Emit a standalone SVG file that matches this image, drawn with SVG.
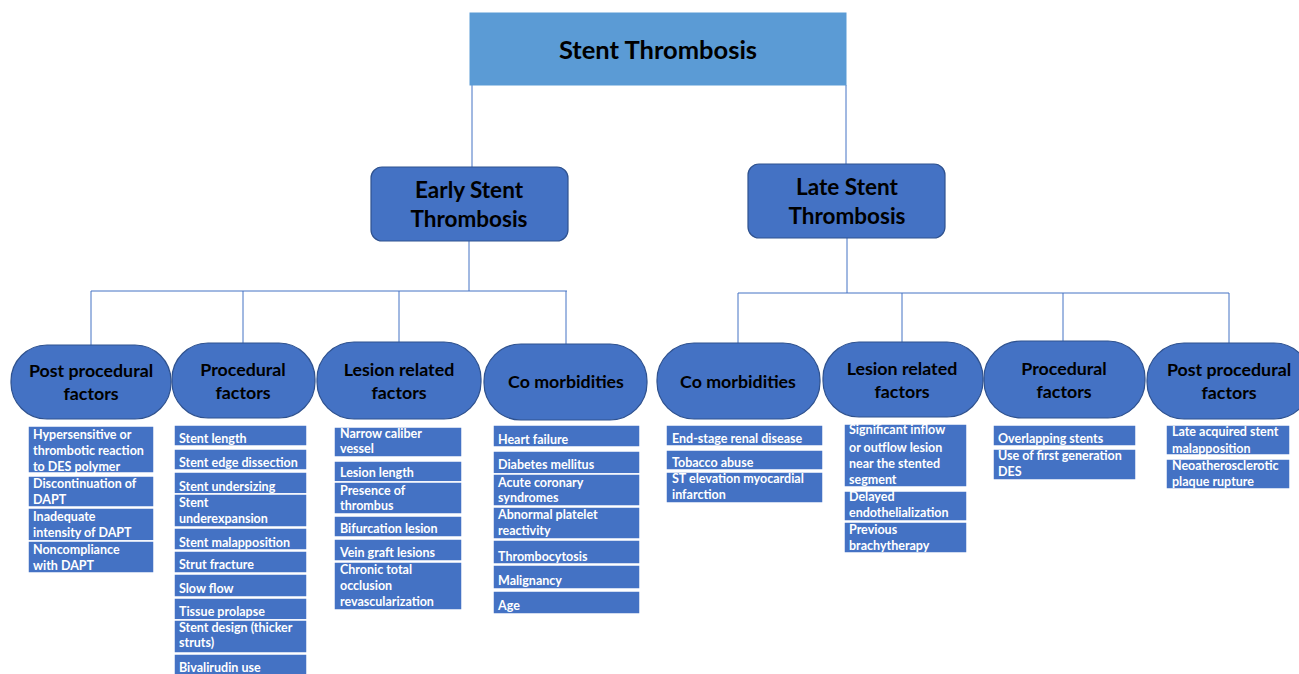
<svg xmlns="http://www.w3.org/2000/svg" width="1299" height="674" viewBox="0 0 1299 674">
<style>
.top{fill:#5B9BD5;stroke:#5B9BD5;stroke-width:1}
.mid{fill:#4472C4;stroke:#2F528F;stroke-width:1.2}
.cat{fill:#4472C4;stroke:#2F528F;stroke-width:1.2}
.li{fill:#4472C4;stroke:#ffffff;stroke-width:1.5}
.h{font-family:Lato,"Liberation Sans",sans-serif;font-weight:bold;fill:#000;text-anchor:middle}
.t{font-family:Lato,"Liberation Sans",sans-serif;font-weight:bold;fill:#ffffff;font-size:12.5px}
.c{stroke:#4472C4;stroke-width:1;fill:none}
</style>
<rect width="1299" height="674" fill="#ffffff"/>
<g id="connectors">
<line class="c" x1="472" y1="85" x2="472" y2="167"/>
<line class="c" x1="846" y1="85" x2="846" y2="164"/>
<line class="c" x1="469" y1="241" x2="469" y2="291"/>
<line class="c" x1="91" y1="291" x2="567" y2="291"/>
<line class="c" x1="91" y1="291" x2="91" y2="345"/>
<line class="c" x1="243" y1="291" x2="243" y2="343"/>
<line class="c" x1="399" y1="291" x2="399" y2="342"/>
<line class="c" x1="566" y1="291" x2="566" y2="344"/>
<line class="c" x1="847" y1="238" x2="847" y2="293"/>
<line class="c" x1="738" y1="293" x2="1229" y2="293"/>
<line class="c" x1="738" y1="293" x2="738" y2="343"/>
<line class="c" x1="902" y1="293" x2="902" y2="342"/>
<line class="c" x1="1063" y1="293" x2="1063" y2="341"/>
<line class="c" x1="1229" y1="293" x2="1229" y2="343"/>
</g>
<g id="root">
<rect class="top" x="470" y="13" width="376" height="72"/>
<text class="h" x="658" y="59" font-size="25.5">Stent Thrombosis</text>
</g>
<g id="early">
<rect class="mid" x="371" y="167" width="197" height="74" rx="11"/>
<text class="h" x="469" y="198" font-size="22.5">Early Stent</text>
<text class="h" x="469" y="227" font-size="22.5">Thrombosis</text>
</g>
<g id="late">
<rect class="mid" x="748" y="164" width="197" height="74" rx="11"/>
<text class="h" x="847" y="195" font-size="22.5">Late Stent</text>
<text class="h" x="847" y="224" font-size="22.5">Thrombosis</text>
</g>
<g id="e-post">
<rect class="cat" x="11" y="345" width="160" height="74" rx="36"/>
<text class="h" x="91" y="377" font-size="17.8">Post procedural</text>
<text class="h" x="91" y="400" font-size="17.8">factors</text>
<rect class="li" x="28" y="426" width="126" height="47"/>
<text class="t" x="33" y="439">Hypersensitive or</text>
<text class="t" x="33" y="455">thrombotic reaction</text>
<text class="t" x="33" y="471">to DES polymer</text>
<rect class="li" x="28" y="476" width="126" height="31"/>
<text class="t" x="33" y="488">Discontinuation of</text>
<text class="t" x="33" y="504">DAPT</text>
<rect class="li" x="28" y="508" width="126" height="33"/>
<text class="t" x="33" y="521">Inadequate</text>
<text class="t" x="33" y="537">intensity of DAPT</text>
<rect class="li" x="28" y="541" width="126" height="32"/>
<text class="t" x="33" y="554">Noncompliance</text>
<text class="t" x="33" y="570">with DAPT</text>
</g>
<g id="e-proc">
<rect class="cat" x="172" y="343" width="143" height="75" rx="36"/>
<text class="h" x="243" y="376" font-size="17.8">Procedural</text>
<text class="h" x="243" y="399" font-size="17.8">factors</text>
<rect class="li" x="174" y="425" width="133" height="21"/>
<text class="t" x="179" y="443">Stent length</text>
<rect class="li" x="174" y="449" width="133" height="21"/>
<text class="t" x="179" y="467">Stent edge dissection</text>
<rect class="li" x="174" y="472" width="133" height="22"/>
<text class="t" x="179" y="491">Stent undersizing</text>
<rect class="li" x="174" y="494" width="133" height="33"/>
<text class="t" x="179" y="507">Stent</text>
<text class="t" x="179" y="523">underexpansion</text>
<rect class="li" x="174" y="528" width="133" height="22"/>
<text class="t" x="179" y="547">Stent malapposition</text>
<rect class="li" x="174" y="551" width="133" height="22"/>
<text class="t" x="179" y="569">Strut fracture</text>
<rect class="li" x="174" y="574" width="133" height="23"/>
<text class="t" x="179" y="593">Slow flow</text>
<rect class="li" x="174" y="598" width="133" height="22"/>
<text class="t" x="179" y="616">Tissue prolapse</text>
<rect class="li" x="174" y="620" width="133" height="33"/>
<text class="t" x="179" y="632">Stent design (thicker</text>
<text class="t" x="179" y="647">struts)</text>
<rect class="li" x="174" y="654" width="133" height="24"/>
<text class="t" x="179" y="672">Bivalirudin use</text>
</g>
<g id="e-lesion">
<rect class="cat" x="317" y="342" width="164" height="77" rx="37"/>
<text class="h" x="399" y="376" font-size="17.8">Lesion related</text>
<text class="h" x="399" y="399" font-size="17.8">factors</text>
<rect class="li" x="334" y="427" width="128" height="30"/>
<text class="t" x="340" y="438">Narrow caliber</text>
<text class="t" x="340" y="453">vessel</text>
<rect class="li" x="334" y="461" width="128" height="21"/>
<text class="t" x="340" y="477">Lesion length</text>
<rect class="li" x="334" y="482" width="128" height="32"/>
<text class="t" x="340" y="495">Presence of</text>
<text class="t" x="340" y="510">thrombus</text>
<rect class="li" x="334" y="516" width="128" height="21"/>
<text class="t" x="340" y="533">Bifurcation lesion</text>
<rect class="li" x="334" y="539" width="128" height="22"/>
<text class="t" x="340" y="557">Vein graft lesions</text>
<rect class="li" x="334" y="562" width="128" height="48"/>
<text class="t" x="340" y="574">Chronic total</text>
<text class="t" x="340" y="590">occlusion</text>
<text class="t" x="340" y="606">revascularization</text>
</g>
<g id="e-comorb">
<rect class="cat" x="484" y="344" width="163" height="76" rx="37"/>
<text class="h" x="566" y="388" font-size="17.8">Co morbidities</text>
<rect class="li" x="493" y="425" width="147" height="22"/>
<text class="t" x="498" y="444">Heart failure</text>
<rect class="li" x="493" y="451" width="147" height="23"/>
<text class="t" x="498" y="469">Diabetes mellitus</text>
<rect class="li" x="493" y="474" width="147" height="32"/>
<text class="t" x="498" y="487">Acute coronary</text>
<text class="t" x="498" y="502">syndromes</text>
<rect class="li" x="493" y="507" width="147" height="32"/>
<text class="t" x="498" y="519">Abnormal platelet</text>
<text class="t" x="498" y="535">reactivity</text>
<rect class="li" x="493" y="540" width="147" height="24"/>
<text class="t" x="498" y="561">Thrombocytosis</text>
<rect class="li" x="493" y="565" width="147" height="24"/>
<text class="t" x="498" y="585">Malignancy</text>
<rect class="li" x="493" y="591" width="147" height="23"/>
<text class="t" x="498" y="610">Age</text>
</g>
<g id="l-comorb">
<rect class="cat" x="657" y="343" width="163" height="76" rx="37"/>
<text class="h" x="738" y="388" font-size="17.8">Co morbidities</text>
<rect class="li" x="666" y="425" width="157" height="21"/>
<text class="t" x="672" y="443">End-stage renal disease</text>
<rect class="li" x="666" y="450" width="157" height="20"/>
<text class="t" x="672" y="467">Tobacco abuse</text>
<rect class="li" x="666" y="472" width="157" height="31"/>
<text class="t" x="672" y="483">ST elevation myocardial</text>
<text class="t" x="672" y="499">infarction</text>
</g>
<g id="l-lesion">
<rect class="cat" x="823" y="342" width="160" height="75" rx="36"/>
<text class="h" x="902" y="375" font-size="17.8">Lesion related</text>
<text class="h" x="902" y="398" font-size="17.8">factors</text>
<rect class="li" x="844" y="424" width="123" height="63"/>
<text class="t" x="849" y="434">Significant inflow</text>
<text class="t" x="849" y="452">or outflow lesion</text>
<text class="t" x="849" y="468">near the stented</text>
<text class="t" x="849" y="484">segment</text>
<rect class="li" x="844" y="491" width="123" height="30"/>
<text class="t" x="849" y="501">Delayed</text>
<text class="t" x="849" y="517">endothelialization</text>
<rect class="li" x="844" y="522" width="123" height="31"/>
<text class="t" x="849" y="534">Previous</text>
<text class="t" x="849" y="550">brachytherapy</text>
</g>
<g id="l-proc">
<rect class="cat" x="984" y="341" width="161" height="77" rx="37"/>
<text class="h" x="1064" y="375" font-size="17.8">Procedural</text>
<text class="h" x="1064" y="398" font-size="17.8">factors</text>
<rect class="li" x="993" y="425" width="143" height="21"/>
<text class="t" x="998" y="443">Overlapping stents</text>
<rect class="li" x="993" y="449" width="143" height="31"/>
<text class="t" x="998" y="460">Use of first generation</text>
<text class="t" x="998" y="476">DES</text>
</g>
<g id="l-post">
<rect class="cat" x="1147" y="343" width="164" height="76" rx="37"/>
<text class="h" x="1229" y="376" font-size="17.8">Post procedural</text>
<text class="h" x="1229" y="399" font-size="17.8">factors</text>
<rect class="li" x="1166" y="425" width="124" height="30"/>
<text class="t" x="1172" y="436">Late acquired stent</text>
<text class="t" x="1172" y="453">malapposition</text>
<rect class="li" x="1166" y="459" width="124" height="30"/>
<text class="t" x="1172" y="470">Neoatherosclerotic</text>
<text class="t" x="1172" y="486">plaque rupture</text>
</g>
</svg>
